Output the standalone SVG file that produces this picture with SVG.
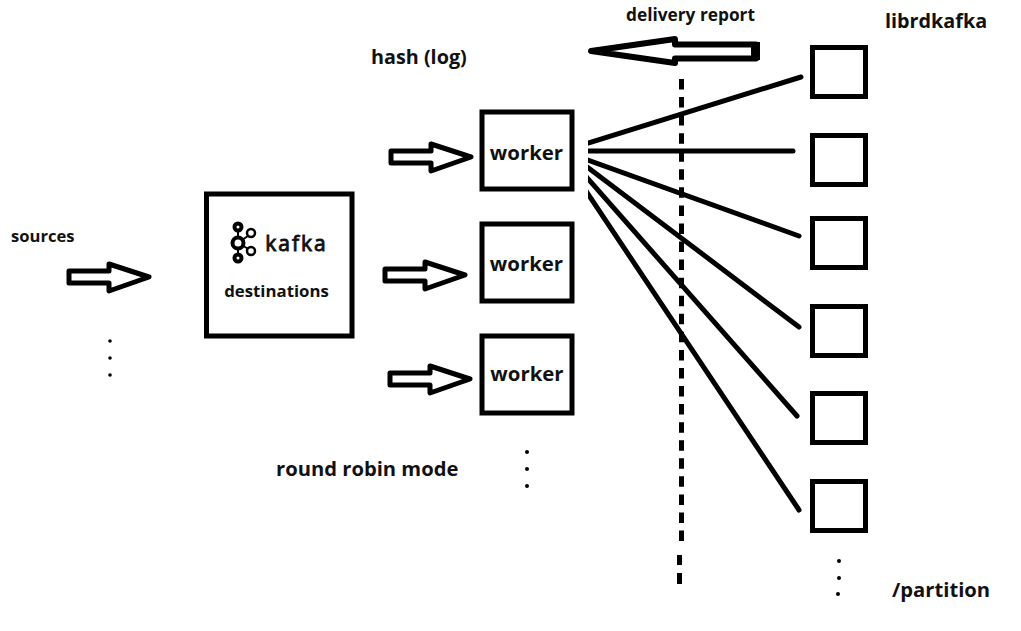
<svg xmlns="http://www.w3.org/2000/svg" xmlns:xlink="http://www.w3.org/1999/xlink" width="1021" height="631" viewBox="0 0 1021 631">
<style>
text{font-family:"Open Sans","Noto Sans","Liberation Sans",sans-serif;font-weight:700;fill:#111}
.box{fill:#fff;stroke:#000;stroke-width:5}
.arrow{fill:#fff;stroke:#000;stroke-width:5;stroke-linejoin:round}
.line{stroke:#000;stroke-width:5;fill:none;stroke-linecap:round}
.dash{stroke:#000;stroke-width:5;fill:none}
.dot{fill:#000}
</style>
<defs>
<path id="arr" class="arrow" d="M0,0H40V-7L80,6 40,20V12H0Z"/>
<clipPath id="fan"><rect x="588" y="60" width="230" height="470"/></clipPath>
</defs>
<rect width="1021" height="631" fill="#fff"/>
<g id="connectors">
<path class="dash" stroke-dasharray="10.5 7.56" d="M681.500,79V542"/>
<path class="dash" d="M679.500,555V565M679.500,573V584"/>
<g clip-path="url(#fan)"><path class="line" d="M582,145L801,77M582,151H793M582,158L799,236M582,163L799,327M582,172L797,416M582,185L799,510"/></g>
<path class="arrow" style="stroke-width:6" d="M591,51L675,39V44.500H756V58.500H675V63Z"/>
<path d="M751,42H760V60H751Z" fill="#000"/>
<use xlink:href="#arr" href="#arr" x="69" y="271"/>
<use xlink:href="#arr" href="#arr" x="391" y="151"/>
<use xlink:href="#arr" href="#arr" x="385" y="269"/>
<use xlink:href="#arr" href="#arr" x="390" y="373"/>
</g>
<g id="destinations">
<rect class="box" x="206.500" y="194" width="145.500" height="142"/>
<g fill="#fff" stroke="#000" stroke-width="4">
<path d="M238,227V259M238,243L252,233M238,243L252,251" fill="none" stroke-width="2"/>
<circle cx="238" cy="227" r="3.500"/><circle cx="238" cy="243" r="5.500"/><circle cx="238" cy="258" r="3.500"/>
<circle cx="251" cy="233" r="4" stroke-width="2.500"/><circle cx="251" cy="251" r="4" stroke-width="2.500"/>
</g>
<text x="296.500" y="251" text-anchor="middle" font-size="21" style="font-weight:400;letter-spacing:2px;stroke:#111;stroke-width:.9">kafka</text>
<text x="276.500" y="297" text-anchor="middle" font-size="16.800">destinations</text>
</g>
<g id="worker1"><rect class="box" x="482" y="112" width="90" height="77"/><text x="526.500" y="160" text-anchor="middle" font-size="20.400">worker</text></g>
<g id="worker2"><rect class="box" x="482" y="224" width="90" height="77"/><text x="526.500" y="271" text-anchor="middle" font-size="20.400">worker</text></g>
<g id="worker3"><rect class="box" x="482" y="336" width="90" height="77"/><text x="527" y="381" text-anchor="middle" font-size="20.400">worker</text></g>
<g id="partition1"><rect class="box" x="812.500" y="47.500" width="53" height="49"/></g>
<g id="partition2"><rect class="box" x="812.500" y="135.500" width="53" height="49"/></g>
<g id="partition3"><rect class="box" x="812.500" y="218.500" width="53" height="49"/></g>
<g id="partition4"><rect class="box" x="812.500" y="306.500" width="53" height="49"/></g>
<g id="partition5"><rect class="box" x="812.500" y="393.500" width="53" height="49"/></g>
<g id="partition6"><rect class="box" x="812.500" y="481.500" width="53" height="49"/></g>
<g id="labels">
<text x="11" y="242" font-size="16.600">sources</text>
<text x="371" y="64" font-size="19.800">hash (log)</text>
<text x="626" y="21" font-size="17.300">delivery report</text>
<text x="885" y="28" font-size="19.800">librdkafka</text>
<text x="276" y="476" font-size="20.200">round robin mode</text>
<text x="892" y="597" font-size="20.200">/partition</text>
</g>
<g id="dots" class="dot">
<circle cx="110" cy="341" r="1.800"/><circle cx="110" cy="358" r="1.800"/><circle cx="110" cy="375" r="1.800"/>
<circle cx="527" cy="452" r="2"/><circle cx="527" cy="469" r="2"/><circle cx="527" cy="486" r="2"/>
<circle cx="839" cy="561" r="2"/><circle cx="839" cy="578" r="2"/><circle cx="838" cy="594" r="2"/>
</g>
</svg>
